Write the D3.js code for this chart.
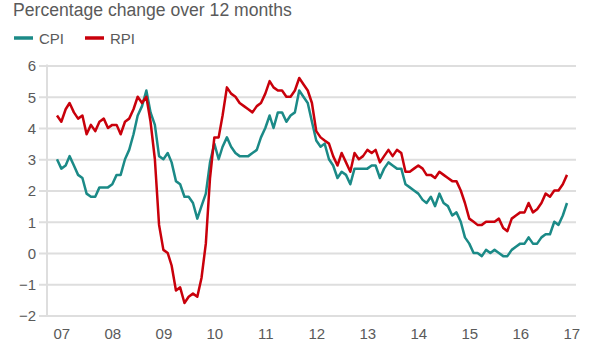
<!DOCTYPE html>
<html>
<head>
<meta charset="utf-8">
<script src="https://cdn.jsdelivr.net/npm/d3@7/dist/d3.min.js"></script>
<style>
  html, body { margin: 0; padding: 0; background: #fff; }
  svg { display: block; }
  text { font-family: "Liberation Sans", Arial, Helvetica, sans-serif; }
</style>
</head>
<body>
<svg id="chart" width="616" height="346"></svg>
<script>
// Monthly 12-month inflation rates, Dec 2006 to Dec 2016 (%)
const firstMonth = new Date(2006, 11, 1);

const cpi = [
  3.0,
  2.7, 2.8, 3.1, 2.8, 2.5, 2.4, 1.9, 1.8, 1.8, 2.1, 2.1, 2.1,
  2.2, 2.5, 2.5, 3.0, 3.3, 3.8, 4.4, 4.7, 5.2, 4.5, 4.1, 3.1,
  3.0, 3.2, 2.9, 2.3, 2.2, 1.8, 1.8, 1.6, 1.1, 1.5, 1.9, 2.9,
  3.5, 3.0, 3.4, 3.7, 3.4, 3.2, 3.1, 3.1, 3.1, 3.2, 3.3, 3.7,
  4.0, 4.4, 4.0, 4.5, 4.5, 4.2, 4.4, 4.5, 5.2, 5.0, 4.8, 4.2,
  3.6, 3.4, 3.5, 3.0, 2.8, 2.4, 2.6, 2.5, 2.2, 2.7, 2.7, 2.7,
  2.7, 2.8, 2.8, 2.4, 2.7, 2.9, 2.8, 2.7, 2.7, 2.2, 2.1, 2.0,
  1.9, 1.7, 1.6, 1.8, 1.5, 1.9, 1.6, 1.5, 1.2, 1.3, 1.0, 0.5,
  0.3, 0.0, 0.0, -0.1, 0.1, 0.0, 0.1, 0.0, -0.1, -0.1, 0.1, 0.2,
  0.3, 0.3, 0.5, 0.3, 0.3, 0.5, 0.6, 0.6, 1.0, 0.9, 1.2, 1.6
];

const rpi = [
  4.4,
  4.2, 4.6, 4.8, 4.5, 4.3, 4.4, 3.8, 4.1, 3.9, 4.2, 4.3, 4.0,
  4.1, 4.1, 3.8, 4.2, 4.3, 4.6, 5.0, 4.8, 5.0, 4.2, 3.0, 0.9,
  0.1, 0.0, -0.4, -1.2, -1.1, -1.6, -1.4, -1.3, -1.4, -0.8, 0.3, 2.4,
  3.7, 3.7, 4.4, 5.3, 5.1, 5.0, 4.8, 4.7, 4.6, 4.5, 4.7, 4.8,
  5.1, 5.5, 5.3, 5.2, 5.2, 5.0, 5.0, 5.2, 5.6, 5.4, 5.2, 4.8,
  3.9, 3.7, 3.6, 3.5, 3.1, 2.8, 3.2, 2.9, 2.6, 3.2, 3.0, 3.1,
  3.3, 3.2, 3.3, 2.9, 3.1, 3.3, 3.1, 3.3, 3.2, 2.6, 2.6, 2.7,
  2.8, 2.7, 2.5, 2.5, 2.4, 2.6, 2.5, 2.4, 2.3, 2.3, 2.0, 1.6,
  1.1, 1.0, 0.9, 0.9, 1.0, 1.0, 1.0, 1.1, 0.8, 0.7, 1.1, 1.2,
  1.3, 1.3, 1.6, 1.3, 1.4, 1.6, 1.9, 1.8, 2.0, 2.0, 2.2, 2.5
];

const seriesNames = ["CPI", "RPI"];
const seriesColors = ["#1b8a87", "#c9000b"];
const yTicks = [-2, -1, 0, 1, 2, 3, 4, 5, 6];
const xTickYears = [2007, 2008, 2009, 2010, 2011, 2012, 2013, 2014, 2015, 2016, 2017];
const titleText = "Percentage change over 12 months";

const svg = d3.select("#chart");
const dates = cpi.map((_, i) => d3.timeMonth.offset(firstMonth, i));

const x = d3.scaleTime()
  .domain([dates[0], dates[dates.length - 1]])
  .range([57, 567]);

const y = d3.scaleLinear()
  .domain([-2, 6])
  .range([315.5, 65.5]);

const textColor = "#5a5a5a";
const gridColor = "#dedede";
const gridLeft = 39, gridRight = 576, axisX = 47;

// Title, right under the top edge
svg.append("text")
  .attr("x", 13).attr("y", 16)
  .attr("font-size", 17.6)
  .attr("fill", textColor)
  .text(titleText);

// Legend
const legend = svg.append("g");
const legendX = [14, 85];
seriesNames.forEach((name, i) => {
  legend.append("line")
    .attr("x1", legendX[i]).attr("x2", legendX[i] + 19)
    .attr("y1", 38).attr("y2", 38)
    .attr("stroke", seriesColors[i])
    .attr("stroke-width", 3.5);
  legend.append("text")
    .attr("x", legendX[i] + 25).attr("y", 43.5)
    .attr("font-size", 15)
    .attr("fill", textColor)
    .text(name);
});

// Horizontal gridlines + y labels
const yAxis = d3.axisLeft(y)
  .tickValues(yTicks)
  .tickSize(-(gridRight - gridLeft))
  .tickPadding(3)
  .tickFormat(d3.format("d"));

const gy = svg.append("g")
  .attr("transform", `translate(${gridLeft},0)`)
  .call(yAxis);
gy.select(".domain").remove();
gy.selectAll(".tick line")
  .attr("stroke", gridColor)
  .attr("stroke-width", 2);
gy.selectAll(".tick text")
  .attr("font-family", "Liberation Sans, Arial, sans-serif")
  .attr("font-size", 15)
  .attr("fill", textColor)
  .attr("dy", "0.36em");

// Vertical axis line
svg.append("line")
  .attr("x1", axisX).attr("x2", axisX)
  .attr("y1", y(6) - 1).attr("y2", y(-2) + 1)
  .attr("stroke", gridColor)
  .attr("stroke-width", 2);

// X axis labels at each January
const xAxis = d3.axisBottom(x)
  .tickValues(xTickYears.map(yr => new Date(yr, 0, 1)))
  .tickSize(0)
  .tickPadding(0)
  .tickFormat(d3.timeFormat("%y"));

const gx = svg.append("g")
  .attr("transform", "translate(0,339)")
  .call(xAxis);
gx.select(".domain").remove();
gx.selectAll(".tick text")
  .attr("font-family", "Liberation Sans, Arial, sans-serif")
  .attr("font-size", 15)
  .attr("fill", textColor)
  .attr("dy", 0)
  .attr("y", 0);

// Series lines
const line = d3.line()
  .x((d, i) => x(dates[i]))
  .y(d => y(d));

[cpi, rpi].forEach((vals, i) => {
  svg.append("path")
    .datum(vals)
    .attr("fill", "none")
    .attr("stroke", seriesColors[i])
    .attr("stroke-width", 2.5)
    .attr("stroke-linejoin", "round")
    .attr("d", line);
});
</script>
</body>
</html>
